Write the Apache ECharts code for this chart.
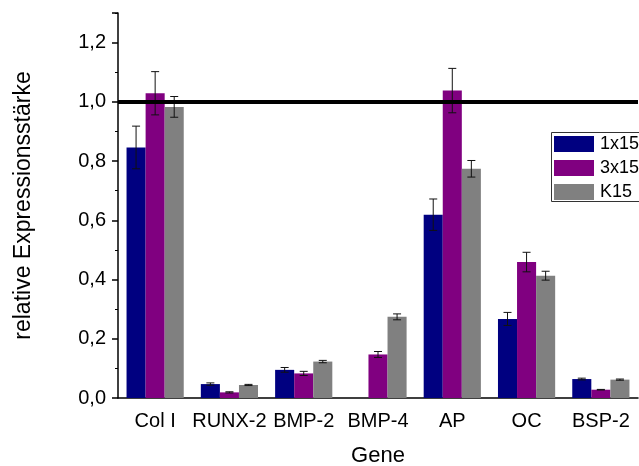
<!DOCTYPE html>
<html><head><meta charset="utf-8">
<script src="https://cdn.jsdelivr.net/npm/echarts@6/dist/echarts.min.js"></script>
<style>html,body{margin:0;padding:0;background:#fff}#c{width:639px;height:466px}</style>
</head><body><div id="c"></div>
<script>
const categories = ['Col I','RUNX-2','BMP-2','BMP-4','AP','OC','BSP-2'];
const seriesNames = ['1x15','3x15','K15'];
const v1x15 = [0.846,0.047,0.095,null,0.619,0.267,0.064];
const e1x15 = [0.072,0.004,0.008,null,0.053,0.022,0.003];
const v3x15 = [1.029,0.019,0.083,0.147,1.038,0.459,0.028];
const e3x15 = [0.073,0.002,0.007,0.010,0.075,0.033,0.001];
const vK15 = [0.983,0.044,0.123,0.274,0.774,0.413,0.062];
const eK15 = [0.035,0.002,0.004,0.010,0.028,0.015,0.002];
const yTickValues = [0,0.2,0.4,0.6,0.8,1.0,1.2];
const yTickLabels = ['0,0','0,2','0,4','0,6','0,8','1,0','1,2'];
const refLine = 1.0;

const colors = ['#000080','#800080','#808080'];
const values = [v1x15, v3x15, vK15];
const errors = [e1x15, e3x15, eK15];
const gapPct = 0.23;
const FONT = 'Liberation Sans, Arial, sans-serif';

const chart = echarts.init(document.getElementById('c'));
const series = [];
values.forEach((vals, i) => {
  series.push({
    name: seriesNames[i], type: 'bar', data: vals,
    barCategoryGap: (gapPct*100)+'%', barGap: '0%',
    itemStyle: {color: colors[i]},
    xAxisIndex: 0,
    markLine: i === 0 ? {
      silent: true, symbol: ['none','none'], label: {show:false},
      lineStyle: {color:'#000', width: 4, type: 'solid'},
      data: [{yAxis: refLine}], z: 10
    } : undefined,
    z: 2
  });
});
values.forEach((vals, i) => {
  const data = [];
  vals.forEach((v, k) => {
    if (v !== null && errors[i][k] !== null) data.push([k, v - errors[i][k], v + errors[i][k]]);
  });
  series.push({
    type: 'custom', xAxisIndex: 0, z: 5, silent: true,
    data: data,
    renderItem: function (params, api) {
      const k = api.value(0);
      const band = api.size([1, 0])[0];
      const bw = band * (1 - gapPct) / 3;
      const c = api.coord([k, 0])[0] + (i - 1) * bw;
      const lo = api.coord([k, api.value(1)])[1];
      const hi = api.coord([k, api.value(2)])[1];
      const cap = 4;
      const st = {stroke: '#111', lineWidth: 1};
      return {type: 'group', children: [
        {type:'line', shape:{x1:c, y1:lo, x2:c, y2:hi}, style: st},
        {type:'line', shape:{x1:c-cap, y1:lo, x2:c+cap, y2:lo}, style: st},
        {type:'line', shape:{x1:c-cap, y1:hi, x2:c+cap, y2:hi}, style: st}
      ]};
    }
  });
});

chart.setOption({
  animation: false,
  backgroundColor: '#fff',
  grid: {left: 118, right: 1, top: 13, bottom: 68, containLabel: false, outerBoundsMode: 'none'},
  legend: {
    data: seriesNames, orient: 'vertical', left: 549, top: 130,
    itemWidth: 40, itemHeight: 16, itemGap: 6, icon: 'rect',
    borderWidth: 0, padding: [5, 0, 3, 5],
    textStyle: {fontFamily: FONT, fontSize: 18, color: '#000', lineHeight: 16, padding: [0,0,0,1]}
  },
  graphic: [{
    type: 'rect', left: 549, top: 130, silent: true, z: 100,
    shape: {width: 110, height: 69},
    style: {fill: 'none', stroke: '#333', lineWidth: 1}
  }],
  xAxis: [{
    type: 'category', data: categories,
    name: 'Gene', nameLocation: 'middle', nameGap: 47,
    nameTextStyle: {fontFamily: FONT, fontSize: 22, color: '#000'},
    axisLine: {lineStyle: {color: '#000', width: 1.5}},
    axisTick: {alignWithLabel: true, length: 6, lineStyle: {color:'#000', width: 1.5}},
    axisLabel: {fontFamily: FONT, fontSize: 20, color: '#000', margin: 13, interval: 0}
  }, {
    type: 'category', data: categories, position: 'bottom',
    axisLine: {show: false},
    axisTick: {length: 3, lineStyle: {color:'#000', width: 1}},
    axisLabel: {show: false}
  }],
  yAxis: {
    type: 'value', min: 0, max: 1.3, interval: 0.2,
    name: 'relative Expressionsstärke', nameLocation: 'middle', nameGap: 83,
    nameTextStyle: {fontFamily: FONT, fontSize: 23, color: '#000'},
    axisLine: {show: true, lineStyle: {color: '#000', width: 1.5}},
    axisTick: {show: true, length: 6, lineStyle: {color:'#000', width: 1.5}},
    minorTick: {show: true, splitNumber: 2, length: 3, lineStyle: {color:'#000', width: 1}},
    splitLine: {show: false},
    axisLabel: {
      fontFamily: FONT, fontSize: 20, color: '#000', margin: 12,
      formatter: function (v) {
        for (let j = 0; j < yTickValues.length; j++) if (Math.abs(v - yTickValues[j]) < 1e-6) return yTickLabels[j];
        return '';
      }
    }
  },
  series: series
});
</script></body></html>
